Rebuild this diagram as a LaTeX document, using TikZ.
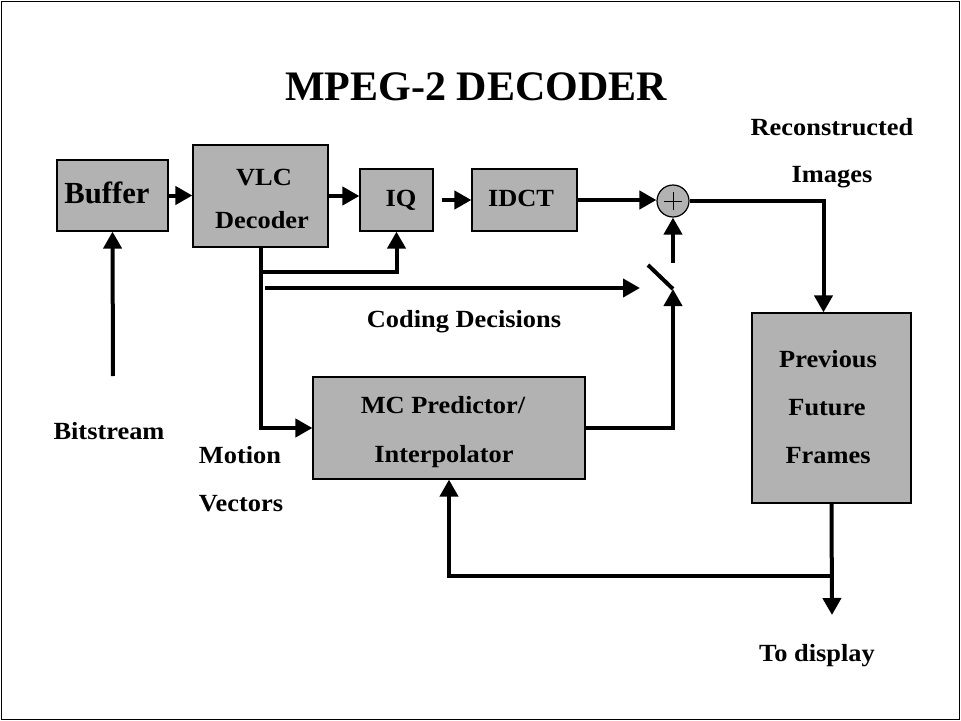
\documentclass[tikz,border=0pt]{standalone}
\usepackage{fontspec}
\setmainfont{Liberation Serif}
\newfontfamily\lblfont[FakeStretch=1.07]{Liberation Serif}
\usetikzlibrary{arrows.meta,fit,calc}
\newlength\px
\setlength\px{0.75pt}
\definecolor{boxgray}{RGB}{178,178,178}
\tikzset{
  box/.style={draw=black, line width=0.9pt, fill=boxgray, inner sep=0pt},
  conn/.style={line width=3pt, draw=black},
  arr/.style={conn, -{Triangle[length=12.75pt,width=13.5pt]}},
  lbl/.style={font=\lblfont\bfseries\fontsize{18.5pt}{22pt}\selectfont, anchor=base, inner sep=0pt},
  bigl/.style={font=\bfseries\fontsize{23pt}{27pt}\selectfont, anchor=base, inner sep=0pt},
  titl/.style={font=\bfseries\fontsize{31.5pt}{36pt}\selectfont, anchor=base, inner sep=0pt},
}
\begin{document}
\begin{tikzpicture}[x=0.75pt, y=-0.75pt]
\useasboundingbox (0,0) rectangle (961,721);
\draw[line width=0.75pt] (1,1) rectangle (959,719);

% title
\node[titl] (title) at (476,100) {MPEG-2 DECODER};

% boxes
\node[box, fit={(57,160) (168,231)}] (buffer) {};
\node[box, fit={(193,145) (328,247)}] (vlc) {};
\node[box, fit={(360,169) (433,231)}] (iq) {};
\node[box, fit={(472,169) (577,231)}] (idct) {};
\node[box, fit={(752,313) (911,503)}] (prev) {};
\node[box, fit={(313,377) (585,479)}] (mc) {};
\node[draw=black, line width=0.9pt, fill=boxgray, circle, minimum size=32*\px, inner sep=0pt] (adder) at (673,201) {};
\draw[line width=0.6pt] ([xshift=-9*\px]adder.center) -- ([xshift=9*\px]adder.center);
\draw[line width=0.6pt] ([yshift=-9*\px]adder.center) -- ([yshift=9*\px]adder.center);

% box texts
\node[bigl] (tbuffer) at (107,203) {Buffer};
\node[lbl] (tvlc) at (264,185) {VLC};
\node[lbl] (tdec) at (262,228) {Decoder};
\node[lbl] (tiq) at (401,206) {IQ};
\node[lbl] (tidct) at (521,206) {IDCT};
\node[lbl] (tmc1) at (443,413) {MC Predictor/};
\node[lbl] (tmc2) at (444,462) {Interpolator};
\node[lbl] (tprev1) at (828,367) {Previous};
\node[lbl] (tprev2) at (827,415) {Future};
\node[lbl] (tprev3) at (828,463) {Frames};

% free labels
\node[lbl] (trec1) at (832,135) {Reconstructed};
\node[lbl] (trec2) at (832,182) {Images};
\node[lbl] (tcd) at (464,327) {Coding Decisions};
\node[lbl] (tbits) at (109,439) {Bitstream};
\node[lbl] (tmv1) at (240,463) {Motion};
\node[lbl] (tmv2) at (241,511) {Vectors};
\node[lbl] (tdisp) at (817,661) {To display};

% coordinates
\coordinate (bs) at (113,376);
\coordinate (b1) at (261,272);
\coordinate (cd) at (265,288);
\coordinate (swin) at (640,288);
\coordinate (sw1) at (648,265);
\coordinate (sw2) at (673,289);
\coordinate (swtop) at (673,263);
\coordinate (fb) at (832,576);
\coordinate (disp) at (832,615);

% connectors
\draw[arr] (bs) -- (buffer.south);
\draw[arr] (buffer.east) -- (buffer.east -| vlc.west);
\draw[arr] (vlc.east) -- (vlc.east -| iq.west);
\draw[arr, shorten <=8*\px] (iq.east) -- (iq.east -| idct.west);
\draw[arr] (idct.east) -- (idct.east -| adder.west);
\draw[arr] (adder.east) -| ([xshift=-8*\px]prev.north);
\draw[arr] (prev.south) -- (disp);
\draw[arr] (fb) -| (mc.south);
\draw[arr] (vlc.south) |- (mc.west);
\draw[arr] (b1) -| (iq.south);
\draw[arr] (cd) -- (swin);
\draw[conn] (sw1) -- (sw2);
\draw[arr] (mc.east) -| (sw2);
\draw[arr] (swtop) -- (adder.south);
\end{tikzpicture}
\end{document}
